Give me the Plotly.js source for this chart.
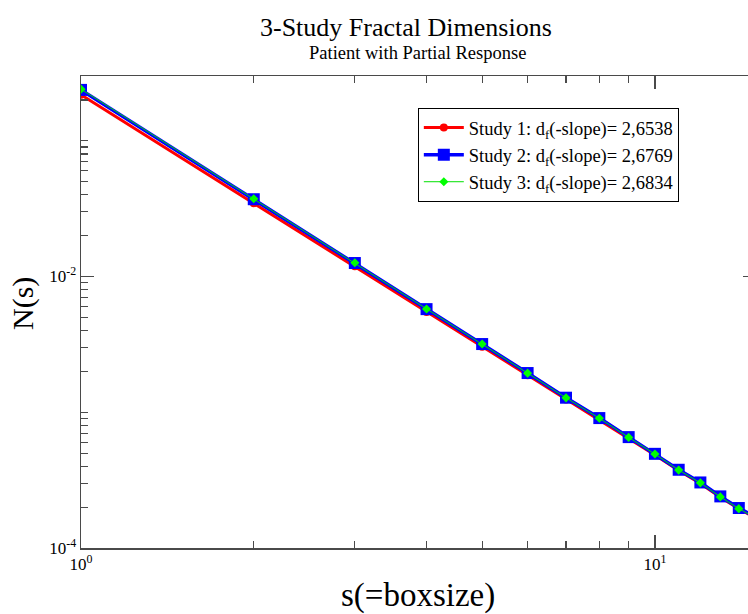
<!DOCTYPE html>
<html>
<head>
<meta charset="utf-8">
<script src="https://cdn.plot.ly/plotly-3.0.1.min.js"></script>
<style>
  html, body { margin: 0; padding: 0; overflow: hidden; background: #fff; }
  #chart { width: 800px; height: 614px; }
</style>
</head>
<body>
<div id="chart"></div>
<script>
// Box sizes s and box-count fractions N(s) for the three studies
const boxSize = [1, 2, 3, 4, 5, 6, 7, 8, 9, 10, 11, 12, 13, 14, 15];

const study1 = [0.218, 0.0347, 0.01189, 0.00547, 0.00304, 0.001875, 0.00124, 0.000879,
                0.000641, 0.000484, 0.000372, 0.000299, 0.000237, 0.000195, 0.000166];
const study2 = [0.237, 0.0371, 0.01257, 0.00575, 0.00318, 0.001945, 0.00128, 0.000906,
                0.000656, 0.000494, 0.000377, 0.000304, 0.000240, 0.000197, 0.000168];
const study3 = [0.240, 0.0374, 0.01262, 0.00576, 0.00318, 0.001942, 0.001277, 0.000903,
                0.000653, 0.000492, 0.000375, 0.000302, 0.000238, 0.000195, 0.000166];

const seriesNames = [
  'Study 1: d<sub>f</sub>(-slope)= 2,6538',
  'Study 2: d<sub>f</sub>(-slope)= 2,6769',
  'Study 3: d<sub>f</sub>(-slope)= 2,6834'
];

const yMajorVals = [1e-4, 1e-2];
const yMajorText = ['10<sup>-4</sup>', '10<sup>-2</sup>'];
const yMinorVals = [2e-4, 3e-4, 4e-4, 5e-4, 6e-4, 7e-4, 8e-4, 9e-4,
                    1e-3, 2e-3, 3e-3, 4e-3, 5e-3, 6e-3, 7e-3, 8e-3, 9e-3,
                    2e-2, 3e-2, 4e-2, 5e-2, 6e-2, 7e-2, 8e-2, 9e-2, 0.1, 0.2];
const xMajorVals = [1, 10];
const xMajorText = ['10<sup>0</sup>', '10<sup>1</sup>'];
const xMinorVals = [2, 3, 4, 5, 6, 7, 8, 9];

const serif = '"Liberation Serif", "Times New Roman", Times, serif';
const axisColor = '#4a4a4a';

const traces = [
  {
    x: boxSize, y: study1, name: seriesNames[0], mode: 'lines+markers',
    line: { color: '#ff0000', width: 3 },
    marker: { color: '#ff0000', symbol: 'circle', size: 8 }
  },
  {
    x: boxSize, y: study2, name: seriesNames[1], mode: 'lines+markers',
    line: { color: '#0000ff', width: 3.5 },
    marker: { color: '#0000ff', symbol: 'square', size: 12 }
  },
  {
    x: boxSize, y: study3, name: seriesNames[2], mode: 'lines+markers',
    line: { color: '#00e000', width: 1 },
    marker: { color: '#00ff00', symbol: 'diamond', size: 7 }
  }
];

const axisCommon = {
  type: 'log',
  showgrid: false,
  zeroline: false,
  showline: true,
  linecolor: axisColor,
  linewidth: 1.5,
  mirror: 'ticks',
  ticks: 'inside',
  ticklen: 13,
  tickwidth: 1.5,
  tickcolor: axisColor,
  tickmode: 'array',
  tickfont: { family: serif, size: 17, color: '#000' }
};

const layout = {
  width: 800,
  height: 614,
  margin: { l: 81, r: 44, t: 76, b: 66 },
  paper_bgcolor: '#fff',
  plot_bgcolor: '#fff',
  font: { family: serif, color: '#000' },
  showlegend: true,
  xaxis: Object.assign({}, axisCommon, {
    range: [0, Math.log10(15)],
    tickvals: xMajorVals,
    ticktext: xMajorText,
    minor: { tickmode: 'array', tickvals: xMinorVals, ticks: 'inside', ticklen: 7,
             tickwidth: 1.2, tickcolor: axisColor, showgrid: false }
  }),
  yaxis: Object.assign({}, axisCommon, {
    range: [-4, Math.log10(0.3)],
    tickvals: yMajorVals,
    ticktext: yMajorText,
    minor: { tickmode: 'array', tickvals: yMinorVals, ticks: 'inside', ticklen: 7,
             tickwidth: 1.2, tickcolor: axisColor, showgrid: false }
  }),
  legend: {
    x: 0.499, y: 0.932, xanchor: 'left', yanchor: 'top',
    bgcolor: '#fff', bordercolor: '#000', borderwidth: 1,
    font: { family: serif, size: 18.5, color: '#000' },
    itemwidth: 40,
    tracegroupgap: 0
  },
  annotations: [
    { text: '3-Study Fractal Dimensions', xref: 'paper', yref: 'paper',
      x: 0.4815, y: 1.103, xanchor: 'center', yanchor: 'middle', showarrow: false,
      font: { family: serif, size: 26, color: '#000' } },
    { text: 'Patient with Partial Response', xref: 'paper', yref: 'paper',
      x: 0.498, y: 1.049, xanchor: 'center', yanchor: 'middle', showarrow: false,
      font: { family: serif, size: 18.5, color: '#000' } },
    { text: 's(=boxsize)', xref: 'paper', yref: 'paper',
      x: 0.499, y: -0.101, xanchor: 'center', yanchor: 'middle', showarrow: false,
      font: { family: serif, size: 33, color: '#000' } },
    { text: 'N(s)', xref: 'paper', yref: 'paper', textangle: -90,
      x: -0.086, y: 0.519, xanchor: 'center', yanchor: 'middle', showarrow: false,
      font: { family: serif, size: 30, color: '#000' } }
  ]
};

Plotly.newPlot('chart', traces, layout, { displayModeBar: false, staticPlot: true });
</script>
</body>
</html>
